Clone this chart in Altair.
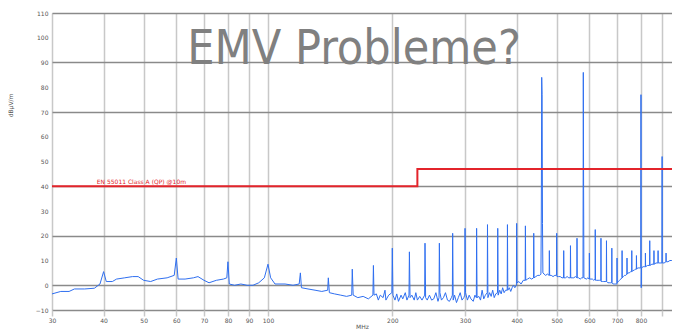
import altair as alt
import pandas as pd

# ---- data ----
spec_freq = [
    30, 31.5, 33, 34, 36, 38, 39.2, 40.0, 40.6, 42, 43, 45, 47, 48.5, 50, 52, 54, 57, 59.3, 60, 60.6,
    63, 66, 67.7, 70, 72, 75, 78, 79.5, 80, 80.6, 83, 86, 89, 92, 95, 98, 100, 101.5, 104, 110, 115,
    119, 119.8, 120.5, 125, 130, 135, 139.5, 140, 140.8, 145, 150, 155, 159.5, 160, 160.8, 165, 170,
    175, 179.5, 180, 180.6, 183, 185, 187, 190, 192, 193, 196, 199.5, 200, 200.7, 203, 205, 207, 210,
    212, 215, 217, 219.5, 220, 220.8, 223, 226, 228, 230, 233, 236, 239.5, 240, 240.8, 243, 246, 249,
    252, 255, 258, 259.5, 260, 260.8, 263, 266, 269, 272, 275, 278, 279.5, 280, 280.8, 283, 286, 289,
    292, 295, 298, 299.5, 300, 300.8, 304, 307, 310, 314, 317, 319.5, 320, 320.8, 324, 327, 330, 333,
    336, 339.5, 340, 340.8, 344, 347, 350, 353, 356, 359.5, 360, 360.8, 364, 367, 370, 373, 376, 379.5,
    380, 380.8, 384, 387, 390, 393, 396, 399.5, 400, 400.8, 405, 410, 415, 419.5, 420, 420.8, 425, 430,
    435, 439.5, 440, 440.8, 445, 450, 455, 458, 459, 460, 461, 462, 463, 470, 475, 479.5, 480, 480.8,
    485, 490, 495, 499.5, 500, 500.8, 505, 510, 515, 519.5, 520, 520.8, 525, 530, 535, 539.5, 540,
    540.8, 545, 550, 555, 559.5, 560, 560.8, 565, 570, 575, 579, 580, 581, 582, 590, 595, 599.5, 600,
    600.8, 605, 610, 615, 619.5, 620, 620.8, 625, 630, 635, 639.5, 640, 640.8, 645, 650, 655, 659.5,
    660, 660.8, 665, 670, 675, 679.5, 680, 680.8, 685, 690, 695, 699.5, 700, 700.8, 705, 710, 715,
    719.5, 720, 720.8, 725, 730, 735, 739.5, 740, 740.8, 745, 750, 755, 759.5, 760, 760.8, 765, 770,
    775, 779.5, 780, 780.8, 785, 790, 795, 799, 800, 801, 802, 810, 815, 819.5, 820, 820.8, 830, 839.5,
    840, 840.8, 850, 859.5, 860, 860.8, 870, 879.5, 880, 880.8, 890, 899, 900, 901, 910, 919.5, 920,
    920.8, 930, 940, 950, 959.5, 960, 960.8, 970, 980, 990, 1000,
]
spec_level = [
    -3.5, -2.5, -2.5, -1.5, -1.5, -1.2, 0.5, 5.5, 1.5, 1.5, 2.5, 3, 3.5, 3.5, 2, 1.5, 2.5, 3, 4, 11, 2.5,
    2.5, 3, 3.5, 2, 1, 2, 2.5, 3, 9.5, 0.5, 0, 0.5, 0, 0, 1, 3, 8.5, 3, 0.5, 0.5, 0,
    0.5, 5, -1, -1.5, -2, -2.5, -2, 3, -3, -3.5, -4, -4.5, -4, 6.5, -4, -5, -4.5,
    -5.5, -4, 8, -4, -3.5, -6, -4, -5, -2, -6, -4, -3, 15, -4, -6, -3.5, -6.5, -4,
    -5.5, -3, -6, -4, 13.5, -5, -4, -6, -3, -6, -4.5, -6, -4, 17, -5, -6, -4, -6,
    -5.5, -3, -6.5, -5, 17, -3, -6, -5, -3, -6, -6.5, -5, -4, 21, -6, -4, -7, -5,
    -3, -6, -5, -4, 23, -3, -6, -4, -5.5, -6.5, -4, -5, 23, -5, -4.5, -6, -2, -5.5,
    -4, -3, 24.5, -5, -3, -4.5, -2, -5, -3.5, -3, 23, -4, -2, -3.5, -1, -3, -2, -2,
    24.5, -2, -1, -2.5, -1, 0, -1, 0, 25, 1, 1.5, 0.5, 2, 2, 24, 2, 2.5, 3,
    2.5, 3, 21, 3, 3.5, 4, 4, 4.5, 30, 84, 77, 25, 5, 4, 4.5, 4, 14, 4,
    4, 3.5, 4, 4, 21, 3.5, 3.5, 3.5, 3, 3, 14, 3, 3, 3.5, 3, 3, 16,
    3, 3, 3, 3.5, 3, 19, 3, 3, 2.5, 3, 3, 86, 40, 3, 2.5, 3, 2.5, 13,
    2.5, 2.5, 2.5, 2, 2.5, 22.5, 2, 2, 2, 2, 2, 19, 1.5, 1.5, 1.5, 1.5, 1.5,
    18, 1.5, 1, 1, 1, 1, 15, 1, 0.5, 0.5, 0.5, 0.5, 11, 1, 1.5, 2, 2.5,
    3, 14, 3, 3.5, 4, 4, 4.5, 11, 4.5, 5, 5, 5.5, 5.5, 14, 5.5, 6, 6,
    6.5, 6.5, 12, 6.5, 7, 7, 7, 7, 77, -1, 7, 7.5, 7.5, 7.5, 13, 7.5, 8, 8,
    18, 8, 8.5, 8.5, 14, 8.5, 9, 9, 14, 9, 9, 9, 52, 9, 9, 9.5, 13,
    9.5, 9.5, 10, 10, 10, 17, 10, 11, 12, 13, 14,
]
limit_freq = [30, 230, 230, 1000]
limit_level = [40, 40, 47, 47]
# the reference is cut off just before 1,000 MHz at its right edge
x_domain = [30, 951]
x_ticks = [30, 40, 50, 60, 70, 80, 90, 100, 200, 300, 400, 500, 600, 700, 800, 900, 1000]
y_ticks = [-10, 0, 10, 20, 30, 40, 50, 60, 70, 80, 90, 100, 110]
y_grid_levels = [110, 90, 70, 40, 20, 0, -10]
title_text = "EMV Probleme?"
limit_label = "EN 55011 Class A (QP) @10m"
limit_label_freq = [38.5]
limit_label_level = [40]
x_title = "MHz"
y_title = "dBµV/m"

spec = pd.DataFrame({"f": spec_freq, "lv": spec_level, "i": range(len(spec_freq))})
limit = pd.DataFrame({"f": limit_freq, "lv": limit_level, "i": range(len(limit_freq))})
lab = pd.DataFrame({"f": limit_label_freq, "lv": limit_label_level, "t": [limit_label]})
ttl = pd.DataFrame({"t": [title_text]})

FONT = "DejaVu Sans"
x_scale = alt.Scale(type="log", domain=x_domain, nice=False)
y_scale = alt.Scale(domain=[-10, 110], nice=False)

grid_test = "indexof([" + ",".join(str(v) for v in y_grid_levels) + "], datum.value) >= 0"

x_axis = alt.Axis(
    values=x_ticks, title=x_title, grid=True, gridColor="#c8c8c8", gridWidth=1.5,
    domain=False, ticks=True, tickSize=6, tickColor="#c8c8c8", tickWidth=1.5,
    labelFont=FONT, labelFontSize=6, labelColor="#555555", labelPadding=1,
    labelOverlap=False, labelFlush=False,
    labelExpr="datum.value == 1000 ? '1.000' : (datum.value == 900 ? '' : format(datum.value, 'd'))",
    titleFont=FONT, titleFontSize=6, titleFontWeight="normal", titleColor="#555555", titlePadding=0,
)
y_axis = alt.Axis(
    values=y_ticks, title=y_title, grid=True, gridColor="#8a8a8a", gridWidth=1.6,
    gridOpacity={"condition": {"test": grid_test, "value": 1}, "value": 0},
    domain=False, ticks=False, labelFont=FONT, labelFontSize=6, labelColor="#555555",
    labelPadding=4, titleFont=FONT, titleFontSize=6, titleFontWeight="normal",
    titleColor="#555555", titleX=-42, titleY=92, titleAlign="center", titleBaseline="middle",
)

spectrum = alt.Chart(spec).mark_line(color="#2f6ff0", strokeWidth=1, clip=True).encode(
    x=alt.X("f:Q", scale=x_scale, axis=x_axis),
    y=alt.Y("lv:Q", scale=y_scale, axis=y_axis),
    order="i:Q",
)
limit_line = alt.Chart(limit).mark_line(color="#e3242b", strokeWidth=2, clip=True).encode(
    x=alt.X("f:Q", scale=x_scale, axis=x_axis),
    y=alt.Y("lv:Q", scale=y_scale, axis=y_axis),
    order="i:Q",
)
limit_text = alt.Chart(lab).mark_text(
    align="left", baseline="bottom", dy=-1, fontSize=6, font=FONT, color="#e3242b"
).encode(
    x=alt.X("f:Q", scale=x_scale, axis=x_axis),
    y=alt.Y("lv:Q", scale=y_scale, axis=y_axis),
    text="t:N",
)
title = alt.Chart(ttl).mark_text(
    align="center", baseline="alphabetic", fontSize=48,
    font="DejaVu Sans Condensed, DejaVu Sans", color="#808080",
).encode(x=alt.value(302), y=alt.value(51), text="t:N")

chart = alt.layer(spectrum, limit_line, limit_text, title).properties(
    width=620, height=297,
    padding={"left": 44, "top": 5, "right": 0, "bottom": 19},
    autosize=alt.AutoSizeParams(type="none"),
).configure_view(stroke=None).configure(background="white")

chart.save("out.html", embed_options={"renderer": "svg", "actions": False})
